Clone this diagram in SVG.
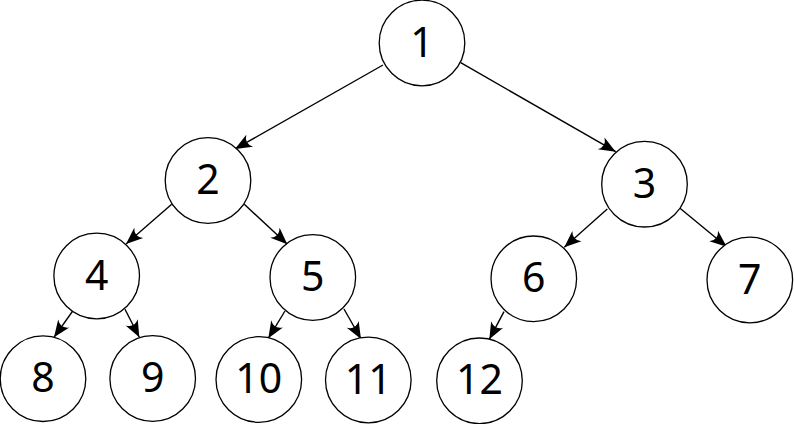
<svg xmlns="http://www.w3.org/2000/svg" width="794" height="424" viewBox="0 0 794 424">
<style>
.n circle{fill:#fff;stroke:#000;stroke-width:1.3}
.n text{font-family:"Noto Sans","Open Sans",sans-serif;font-size:41px;text-anchor:middle;fill:#000}
.e line{stroke:#000;stroke-width:1.4;marker-end:url(#ah)}
</style>
<defs>
<marker id="ah" markerUnits="userSpaceOnUse" orient="auto" refX="0" refY="0" markerWidth="20" markerHeight="20" viewBox="-17 -8 19 16" overflow="visible">
<path d="M0,0 L-16,-6.5 Q-10,0 -16,6.5 Z" fill="#000"/>
</marker>
</defs>
<rect width="794" height="424" fill="#fff"/>
<g id="edges" class="e">
<line x1="383" y1="65" x2="235" y2="149"/>
<line x1="460.7" y1="62.7" x2="615.7" y2="151.7"/>
<line x1="171.7" y1="204.3" x2="126" y2="244"/>
<line x1="244.3" y1="204.3" x2="287.3" y2="244.3"/>
<line x1="72.7" y1="311" x2="54" y2="337.3"/>
<line x1="125" y1="309.3" x2="139.3" y2="337.3"/>
<line x1="285" y1="311" x2="268.3" y2="338.3"/>
<line x1="344" y1="309" x2="361" y2="339"/>
<line x1="607.3" y1="209" x2="564.3" y2="247.3"/>
<line x1="680" y1="208.3" x2="726.7" y2="246.7"/>
<line x1="504" y1="311.7" x2="489.3" y2="339.3"/>
</g>
<g id="n1" class="n"><circle cx="422" cy="43" r="42.8"/><text x="422" y="57">1</text></g>
<g id="n2" class="n"><circle cx="208" cy="180.5" r="42.8"/><text x="208" y="194">2</text></g>
<g id="n3" class="n"><circle cx="644.5" cy="184.2" r="42.8"/><text x="644.5" y="197.7">3</text></g>
<g id="n4" class="n"><circle cx="96.7" cy="276" r="42.8"/><text x="96.7" y="289.5">4</text></g>
<g id="n5" class="n"><circle cx="312.8" cy="277.5" r="42.8"/><text x="312.8" y="291">5</text></g>
<g id="n6" class="n"><circle cx="533.8" cy="278.8" r="42.8"/><text x="533.8" y="292.3">6</text></g>
<g id="n7" class="n"><circle cx="749.8" cy="280" r="42.8"/><text x="749.8" y="293.5">7</text></g>
<g id="n8" class="n"><circle cx="43" cy="378.7" r="42.8"/><text x="43" y="392.2">8</text></g>
<g id="n9" class="n"><circle cx="152.7" cy="378.5" r="42.8"/><text x="152.7" y="392">9</text></g>
<g id="n10" class="n"><circle cx="258.8" cy="379.5" r="42.8"/><text x="258.8" y="393">10</text></g>
<g id="n11" class="n"><circle cx="368.3" cy="380" r="42.8"/><text x="368.3" y="393.5">11</text></g>
<g id="n12" class="n"><circle cx="479.5" cy="380.8" r="42.8"/><text x="479.5" y="394.3">12</text></g>
</svg>
